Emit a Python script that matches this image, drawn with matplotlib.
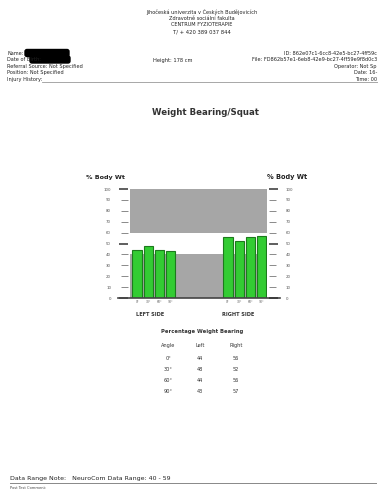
import matplotlib
matplotlib.use("Agg")
import matplotlib.pyplot as plt
from matplotlib.patches import FancyBboxPatch

angles = ["0°", "30°", "60°", "90°"]
left_vals = [44, 48, 44, 43]
right_vals = [56, 52, 56, 57]
range_lo, range_hi = 40, 60
major_ticks = [0, 50, 100]
minor_ticks = [10, 20, 30, 40, 60, 70, 80, 90]

W, H = 378, 498
fig = plt.figure(figsize=(W / 100, H / 100), dpi=100)
fig.patch.set_facecolor("white")

# page layer in pixel coordinates
page = fig.add_axes([0, 0, 1, 1])
page.set_xlim(0, W)
page.set_ylim(H, 0)
page.axis("off")

txt = "#222222"
page.text(202, 12, "Jihočeská univerzita v Českých Budějovicích", ha="center", va="center", fontsize=3.6, color=txt)
page.text(202, 18.5, "Zdravotně sociální fakulta", ha="center", va="center", fontsize=3.6, color=txt)
page.text(202, 24.5, "CENTRUM FYZIOTERAPIE", ha="center", va="center", fontsize=3.6, color=txt)
page.text(202, 32, "T/ + 420 389 037 844", ha="center", va="center", fontsize=3.8, color=txt)

info = ["Name:", "Date of Birth:", "Referral Source: Not Specified", "Position: Not Specified", "Injury History:"]
for i, s in enumerate(info):
    page.text(7, 53 + i * 6.5, s, ha="left", va="center", fontsize=3.6, color=txt)
page.add_patch(FancyBboxPatch((25, 49.5), 44, 7, boxstyle="round,pad=0,rounding_size=2", color="black"))
page.add_patch(FancyBboxPatch((30, 56), 40, 7, boxstyle="round,pad=0,rounding_size=2", color="black"))
page.text(153, 60, "Height: 178 cm", ha="left", va="center", fontsize=3.7, color=txt)

right_info = ["ID: 862e07c1-6cc8-42e5-bc27-4ff59c",
              "File: FD862b57e1-6eb8-42e9-bc27-4ff59e9f8d0c3",
              "Operator: Not Sp", "Date: 16-", "Time: 00"]
for i, s in enumerate(right_info):
    page.text(377, 53 + i * 6.5, s, ha="right", va="center", fontsize=3.6, color=txt)
page.plot([42, 378], [81.5, 81.5], color="#999999", lw=0.6)

page.text(206, 112, "Weight Bearing/Squat", ha="center", va="center", fontsize=6.2, fontweight="bold", color="#333333")
page.text(105, 177, "% Body Wt", ha="center", va="center", fontsize=4.6, fontweight="bold", color="#222222")
page.text(287, 177, "% Body Wt", ha="center", va="center", fontsize=4.8, fontweight="bold", color="#222222")

page.text(150, 314, "LEFT SIDE", ha="center", va="center", fontsize=3.6, fontweight="bold", color="#333333")
page.text(238, 314, "RIGHT SIDE", ha="center", va="center", fontsize=3.6, fontweight="bold", color="#333333")

# summary table
page.text(202, 331, "Percentage Weight Bearing", ha="center", va="center", fontsize=3.8, fontweight="bold", color="#333333")
cols_x = [168, 200, 236]
for x, h in zip(cols_x, ["Angle", "Left", "Right"]):
    page.text(x, 345, h, ha="center", va="center", fontsize=3.6, color="#333333")
for i, (a, l, r) in enumerate(zip(angles, left_vals, right_vals)):
    y = 358 + i * 11.2
    page.text(cols_x[0], y, a, ha="center", va="center", fontsize=3.6, color="#333333")
    page.text(cols_x[1], y, str(l), ha="center", va="center", fontsize=3.6, color="#333333")
    page.text(cols_x[2], y, str(r), ha="center", va="center", fontsize=3.6, color="#333333")

page.text(10, 478, "Data Range Note:   NeuroCom Data Range: %d - %d" % (range_lo, range_hi - 1),
          ha="left", va="center", fontsize=4.5, color="#222222")
page.plot([10, 376], [483, 483], color="#888888", lw=0.7)
page.text(10, 487.5, "Post Test Comment:", ha="left", va="center", fontsize=2.6, color="#444444")

# bar chart
ax = fig.add_axes([130 / W, (H - 298) / H, 137 / W, 109 / H])
ax.set_ylim(0, 100)
left_x = [0, 1, 2, 3]
right_x = [8.15, 9.15, 10.15, 11.15]
ax.set_xlim(-0.63, 11.65)
ax.axhspan(range_hi, 100, color="#a6a6a6", lw=0, zorder=0)
ax.axhspan(0, range_lo, color="#a6a6a6", lw=0, zorder=0)
bar_kw = dict(width=0.82, color="#33cc33", edgecolor="#1d7a1d", linewidth=0.8, zorder=2)
ax.bar(left_x, left_vals, **bar_kw)
ax.bar(right_x, right_vals, **bar_kw)
ax.set_xticks(left_x + right_x, angles + angles)
ax.tick_params(axis="x", length=0, labelsize=2.2, pad=1.5, labelcolor="#555555")
ax.axhline(0, xmin=-0.088, xmax=1.095, color="#444444", lw=1.2, clip_on=False, zorder=3)

ax2 = ax.twinx()
ax2.set_ylim(0, 100)
for a, side in [(ax, "left"), (ax2, "right")]:
    for sp in a.spines.values():
        sp.set_visible(False)
    a.spines[side].set_position(("outward", 1.3))
    a.yaxis.set_ticks_position(side)
    a.set_yticks(major_ticks)
    a.set_yticks(minor_ticks, minor=True)
    a.set_yticklabels([str(v) for v in major_ticks])
    a.set_yticklabels([str(v) for v in minor_ticks], minor=True)
    a.tick_params(axis="y", which="major", length=6.5, width=1.1, color="#333333",
                  labelsize=2.8, labelcolor="#555555", pad=5.8)
    a.tick_params(axis="y", which="minor", length=4.8, width=0.6, color="#777777",
                  labelsize=2.8, labelcolor="#555555", pad=7.5)
ax.patch.set_alpha(0)
ax2.patch.set_alpha(0)

fig.savefig("out.png", dpi=100, facecolor="white")
